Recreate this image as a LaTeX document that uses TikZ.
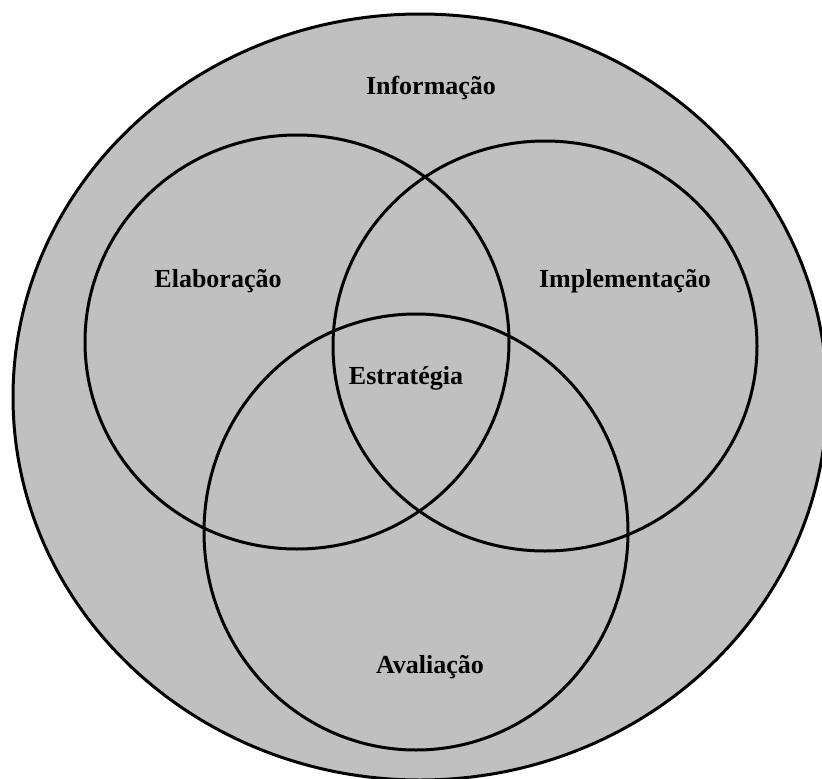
\documentclass[tikz,border=0pt]{standalone}
\usepackage{fontspec}
\setmainfont{Liberation Serif}
\definecolor{areagray}{RGB}{192,192,192}
\begin{document}
\begin{tikzpicture}[x=1pt,y=-1pt,
    ring/.style={draw=black,line width=3pt},
    label/.style={font=\fontsize{26}{30}\selectfont\bfseries,inner sep=0pt}]
  \useasboundingbox (0,0) rectangle (822,779);
  \begin{scope}
    \clip (0,0) rectangle (822,779);
    % outer field
    \draw[ring,fill=areagray] (420,397) ellipse [x radius=407, y radius=383];
    % three overlapping sets
    \draw[ring] (297,342) ellipse [x radius=212, y radius=207];
    \draw[ring] (545,346) ellipse [x radius=212, y radius=205];
    \draw[ring] (416,532) ellipse [x radius=212, y radius=218];
  \end{scope}
  \node[label] (info) at (431,88) {Informação};
  \node[label] (elab) at (218,281) {Elaboração};
  \node[label] (impl) at (625,281) {Implementação};
  \node[label] (estr) at (406,378) {Estratégia};
  \node[label] (aval) at (430,667) {Avaliação};
\end{tikzpicture}
\end{document}
